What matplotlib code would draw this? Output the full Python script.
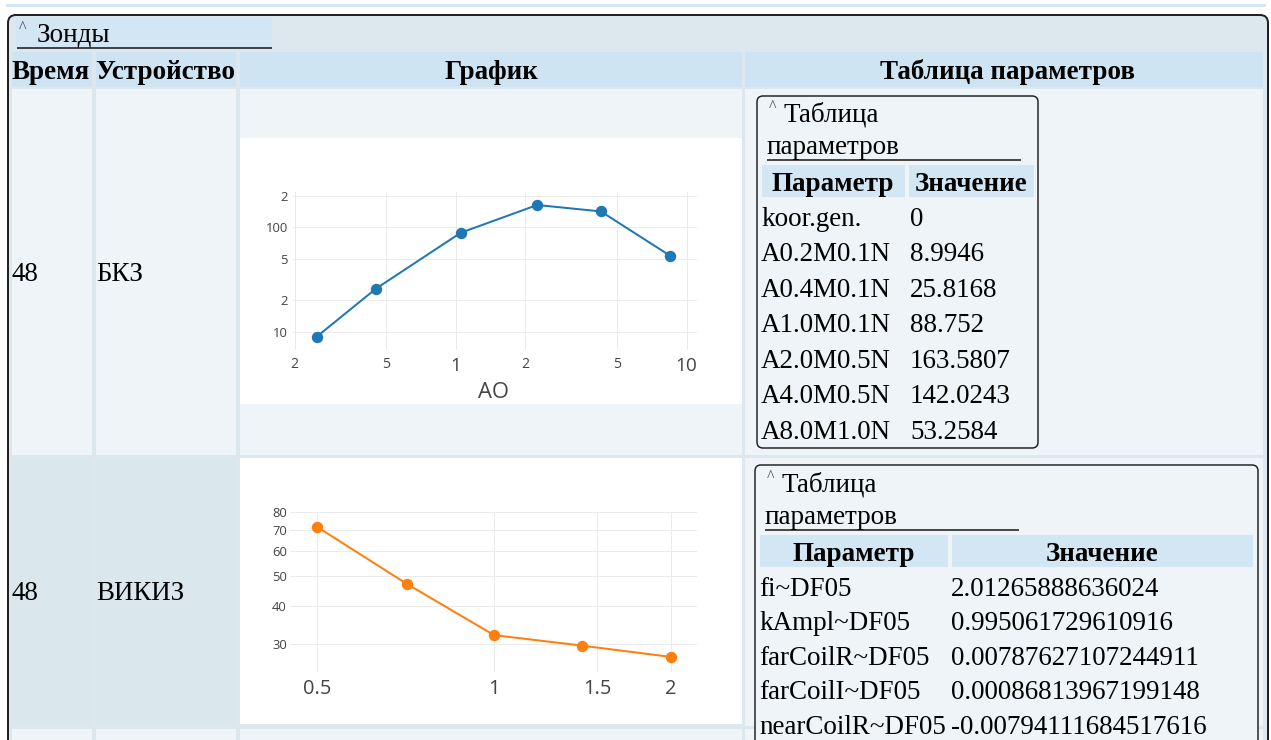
import matplotlib
matplotlib.use('Agg')
import matplotlib.pyplot as plt
from matplotlib.patches import Rectangle, FancyBboxPatch
from matplotlib.ticker import NullLocator

W, H = 1271, 740
PX = 72 / 100  # points per pixel

# ---------------- data ----------------
section_title = 'Зонды'
header_cols = ['Время', 'Устройство', 'График', 'Таблица параметров']
rows_time = ['48', '48']
rows_device = ['БКЗ', 'ВИКИЗ']
table_title_1 = 'Таблица'
table_title_2 = 'параметров'
table_head = ['Параметр', 'Значение']

bkz_params = ['koor.gen.', 'A0.2M0.1N', 'A0.4M0.1N', 'A1.0M0.1N',
              'A2.0M0.5N', 'A4.0M0.5N', 'A8.0M1.0N']
bkz_values = ['0', '8.9946', '25.8168', '88.752', '163.5807', '142.0243', '53.2584']
bkz_ao = [0.25, 0.45, 1.05, 2.25, 4.25, 8.5]
bkz_rho = [8.9946, 25.8168, 88.752, 163.5807, 142.0243, 53.2584]
bkz_xticks = [0.2, 0.5, 1, 2, 5, 10]
bkz_xticklabels = ['2', '5', '1', '2', '5', '10']
bkz_xtick_major = [False, False, True, False, False, True]
bkz_yticks = [10, 20, 50, 100, 200]
bkz_yticklabels = ['10', '2', '5', '100', '2']
bkz_xlabel = 'AO'

vikiz_params = ['fi~DF05', 'kAmpl~DF05', 'farCoilR~DF05', 'farCoilI~DF05', 'nearCoilR~DF05']
vikiz_values = ['2.01265888636024', '0.995061729610916', '0.00787627107244911',
                '0.00086813967199148', '-0.00794111684517616']
vikiz_len = [0.5, 0.71, 1.0, 1.41, 2.0]
vikiz_rho = [71.7, 47.0, 32.1, 29.7, 27.3]
vikiz_xticks = [0.5, 1, 1.5, 2]
vikiz_xticklabels = ['0.5', '1', '1.5', '2']
vikiz_yticks = [30, 40, 50, 60, 70, 80]
vikiz_yticklabels = ['30', '40', '50', '60', '70', '80']

# ---------------- colours / fonts ----------------
C_CONT = '#dce8ee'
C_HEAD = '#cfe4f2'
C_LEG = '#d3e6f3'
C_CELL = '#eef4f7'
C_CELL2 = '#dae8ee'
C_LINE = '#d4e6f2'
SERIF = 'Liberation Serif'
SANS = 'Open Sans'
FS = 27  # px

fig = plt.figure(figsize=(W / 100, H / 100), dpi=100)
fig.patch.set_facecolor('white')
bg = fig.add_axes([0, 0, 1, 1])
bg.set_xlim(0, W)
bg.set_ylim(H, 0)
bg.axis('off')


def rect(x0, y0, x1, y1, color, z=1):
    bg.add_patch(Rectangle((x0, y0), x1 - x0, y1 - y0, facecolor=color,
                           edgecolor='none', zorder=z))


def rbox(x0, y0, x1, y1, fc, ec, lw, r, z=1):
    bg.add_patch(FancyBboxPatch((x0 + r, y0 + r), x1 - x0 - 2 * r, y1 - y0 - 2 * r,
                                boxstyle=f'round,pad={r},rounding_size={r}',
                                facecolor=fc, edgecolor=ec, linewidth=lw * PX, zorder=z))


def hline(x0, x1, y, lw=1.5, color='#111', z=3):
    bg.plot([x0, x1], [y, y], color=color, lw=lw * PX, zorder=z, solid_capstyle='butt')


def t(x, yc, s, size=FS, bold=False, ha='left', color='black', family=SERIF, z=10):
    bg.text(x, yc + 0.33 * size, s, fontsize=size * PX,
            fontweight='bold' if bold else 'normal', ha=ha, va='baseline',
            family=family, color=color, zorder=z)


def caret_title(x, y_top, lines, width, height):
    rect(x, y_top, x + width, y_top + height, C_LEG, z=2)
    hline(x, x + width, y_top + height)
    t(x + 2, y_top + 9, '^', size=16, color='#445')
    t(x + 17, y_top + 16, lines[0])
    if len(lines) > 1:
        t(x, y_top + 48, lines[1])


# top thin line
rect(6, 4, 1266, 7, C_LINE)
# outer container
rbox(8, 15, 1268, 820, C_CONT, '#222', 2, 8)
# section legend
rect(16, 17, 272, 48, C_LEG, z=2)
hline(17, 272, 48)
t(19, 27, '^', size=16, color='#445')
t(37, 33, section_title)

cols = [(12, 92), (96, 236), (240, 742), (745, 1263)]
# header row
for (x0, x1) in cols:
    rect(x0, 52, x1, 87, C_HEAD)
t(12, 70, header_cols[0], bold=True)
t(95, 70, header_cols[1], bold=True)
t((cols[2][0] + cols[2][1]) / 2, 70, header_cols[2], bold=True, ha='center')
t((cols[3][0] + cols[3][1]) / 2 + 4, 70, header_cols[3], bold=True, ha='center')

# row 1
for (x0, x1) in cols:
    rect(x0, 89, x1, 455, C_CELL)
rect(240, 138, 742, 404, 'white', z=2)
t(12, 272, rows_time[0])
t(96, 272, rows_device[0])

# row 2
rect(12, 458, 92, 726, C_CELL2)
rect(96, 458, 236, 726, C_CELL2)
rect(240, 458, 742, 724, 'white')
rect(745, 458, 1263, 726, C_CELL)
t(12, 591, rows_time[1])
t(96, 591, rows_device[1])

# row 3 (partially visible)
for (x0, x1) in cols:
    rect(x0, 729, x1, 760, C_CELL)

# ---- parameter table 1 ----
rbox(757, 96, 1038, 448, C_CELL, '#222', 1.5, 6, z=3)
caret_title(767, 97, [table_title_1, table_title_2], 254, 63)
rect(762, 165, 905, 197, C_LEG, z=4)
rect(909, 165, 1034, 197, C_LEG, z=4)
t(833, 182, table_head[0], bold=True, ha='center')
t(971, 182, table_head[1], bold=True, ha='center')
for i, (p, v) in enumerate(zip(bkz_params, bkz_values)):
    yc = 217 + 35.5 * i
    t(761, yc, p)
    t(910, yc, v)

# ---- parameter table 2 ----
rbox(755, 465, 1258, 820, C_CELL, '#222', 1.5, 6, z=3)
caret_title(765, 467, [table_title_1, table_title_2], 254, 63)
rect(760, 535, 948, 567, C_LEG, z=4)
rect(952, 535, 1253, 567, C_LEG, z=4)
t(854, 552, table_head[0], bold=True, ha='center')
t(1102, 552, table_head[1], bold=True, ha='center')
for i, (p, v) in enumerate(zip(vikiz_params, vikiz_values)):
    yc = 587 + 34.5 * i
    t(759, yc, p)
    t(951, yc, v)


# ---------------- charts ----------------
def add_ax(x0, y0, x1, y1):
    a = fig.add_axes([x0 / W, 1 - y1 / H, (x1 - x0) / W, (y1 - y0) / H])
    a.set_facecolor('none')
    for s in a.spines.values():
        s.set_visible(False)
    a.set_xscale('log')
    a.set_yscale('log')
    a.xaxis.set_minor_locator(NullLocator())
    a.yaxis.set_minor_locator(NullLocator())
    a.grid(True, which='major', color='#ebebeb', lw=1 * PX)
    a.set_axisbelow(True)
    a.tick_params(length=0, colors='#444')
    return a


ax1 = add_ax(293, 192, 697, 350)
ax1.plot(bkz_ao, bkz_rho, color='#1f77b4', lw=2 * PX, marker='o', ms=10 * PX,
         clip_on=False)
ax1.set_xlim(10 ** -0.706, 10 ** 1.045)
ax1.set_ylim(6.68, 218)
ax1.set_xticks(bkz_xticks, bkz_xticklabels)
ax1.set_yticks(bkz_yticks, bkz_yticklabels)
ax1.xaxis.set_minor_locator(NullLocator())
ax1.yaxis.set_minor_locator(NullLocator())
for lbl, big in zip(ax1.get_xticklabels(), bkz_xtick_major):
    lbl.set_fontsize((19 if big else 14) * PX)
    lbl.set_family(SANS)
    lbl.set_verticalalignment('top')
for lbl in ax1.get_yticklabels():
    lbl.set_fontsize(13 * PX)
    lbl.set_family(SANS)
ax1.tick_params(axis='x', pad=7 * PX)
ax1.tick_params(axis='y', pad=5 * PX)
bg.text(494, 398, bkz_xlabel, fontsize=22 * PX, family=SANS, color='#444',
        ha='center', va='baseline', zorder=10)

ax2 = add_ax(290, 512, 697, 672)
ax2.plot(vikiz_len, vikiz_rho, color='#ff7f0e', lw=2 * PX, marker='o', ms=10 * PX,
         clip_on=False)
ax2.set_xlim(0.449, 2.218)
ax2.set_ylim(24.4, 80.2)
ax2.set_xticks(vikiz_xticks, vikiz_xticklabels)
ax2.set_yticks(vikiz_yticks, vikiz_yticklabels)
ax2.xaxis.set_minor_locator(NullLocator())
ax2.yaxis.set_minor_locator(NullLocator())
for lbl in ax2.get_xticklabels():
    lbl.set_fontsize(20 * PX)
    lbl.set_family(SANS)
for lbl in ax2.get_yticklabels():
    lbl.set_fontsize(13 * PX)
    lbl.set_family(SANS)
ax2.tick_params(axis='x', pad=7 * PX)
ax2.tick_params(axis='y', pad=3 * PX)

fig.savefig('out.png', dpi=100, facecolor='white')
